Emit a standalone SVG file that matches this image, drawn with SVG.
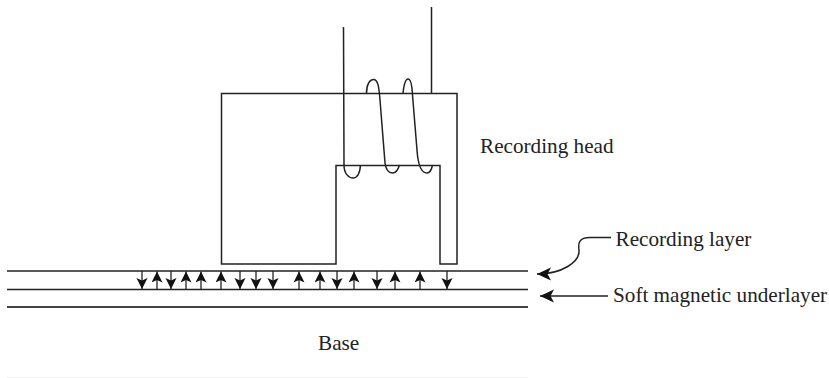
<svg xmlns="http://www.w3.org/2000/svg" width="829" height="378" viewBox="0 0 829 378">
<style>
.l{fill:none;stroke:#222;stroke-width:1.5}
.a{fill:none;stroke:#222;stroke-width:1.3}
.t{font-family:"Liberation Serif","Times New Roman",serif;font-size:21.2px;fill:#222}
</style>
<defs>
<marker id="ah" markerUnits="userSpaceOnUse" markerWidth="12" markerHeight="12" refX="11" refY="5.5" orient="auto">
<path d="M0 0L11 5.500L0 11L2.500 5.500Z" fill="#111"/>
</marker>
<marker id="lh" markerUnits="userSpaceOnUse" markerWidth="16" markerHeight="14" refX="14" refY="6.5" orient="auto">
<path d="M0 0L14 6.500L0 13L3.500 6.500Z" fill="#111"/>
</marker>
</defs>
<rect width="829" height="378" fill="#fff"/>
<g id="layers">
<path class="l" d="M7 271H528M7 289.500H528"/>
<path class="l" style="stroke:#444;stroke-width:2" d="M7 307H528"/>
<path d="M7 377.500H528" stroke="#f0f0f0" fill="none"/>
</g>
<g id="recording-head">
<path class="l" d="M221.500 93.500H457V264H440V165.500H336V264H221.500Z"/>
</g>
<g id="coil">
<path class="l" d="M343.500 27L344 165C344 174 349 178 353 178C358 178 360 172 360.500 165"/>
<path class="l" d="M366.500 93C366.500 84 370 79.500 373.500 79.500C378 79.500 379 87 380 100L385 163C386 170 389 173 392.500 173C395 173 398 170 399.500 165"/>
<path class="l" d="M403 93C404 84 405.500 79 408 79C411 79 412 85 412.500 95L417 150C418 165 421 173 427 173C430 173 431.500 170 432.500 165"/>
<path class="l" d="M431.500 7V93"/>
</g>
<g id="connectors">
<path class="a" marker-end="url(#ah)" d="M142 271V289"/>
<path class="a" marker-end="url(#ah)" d="M157 289.500V271.500"/>
<path class="a" marker-end="url(#ah)" d="M171 271V289"/>
<path class="a" marker-end="url(#ah)" d="M186 289.500V271.500"/>
<path class="a" marker-end="url(#ah)" d="M201 289.500V271.500"/>
<path class="a" marker-end="url(#ah)" d="M221 289.500V271.500"/>
<path class="a" marker-end="url(#ah)" d="M240 271V289"/>
<path class="a" marker-end="url(#ah)" d="M256 271V289"/>
<path class="a" marker-end="url(#ah)" d="M273 271V289"/>
<path class="a" marker-end="url(#ah)" d="M299 289.500V271.500"/>
<path class="a" marker-end="url(#ah)" d="M320 289.500V271.500"/>
<path class="a" marker-end="url(#ah)" d="M337 271V289"/>
<path class="a" marker-end="url(#ah)" d="M354 289.500V271.500"/>
<path class="a" marker-end="url(#ah)" d="M377 271V289"/>
<path class="a" marker-end="url(#ah)" d="M395 289.500V271.500"/>
<path class="a" marker-end="url(#ah)" d="M420 289.500V271.500"/>
<path class="a" marker-end="url(#ah)" d="M447 271V289"/>
<path class="l" marker-end="url(#lh)" d="M611 237.500H590C579 237.500 578 243 579 250C580 262 562 274 537 274"/>
<path class="l" marker-end="url(#lh)" d="M608 296H540"/>
</g>
<g id="label-head"><text class="t" x="480" y="153">Recording head</text></g>
<g id="label-recording"><text class="t" x="615.500" y="245.500">Recording layer</text></g>
<g id="label-soft"><text class="t" x="613" y="302">Soft magnetic underlayer</text></g>
<g id="label-base"><text class="t" x="318" y="350">Base</text></g>
</svg>
